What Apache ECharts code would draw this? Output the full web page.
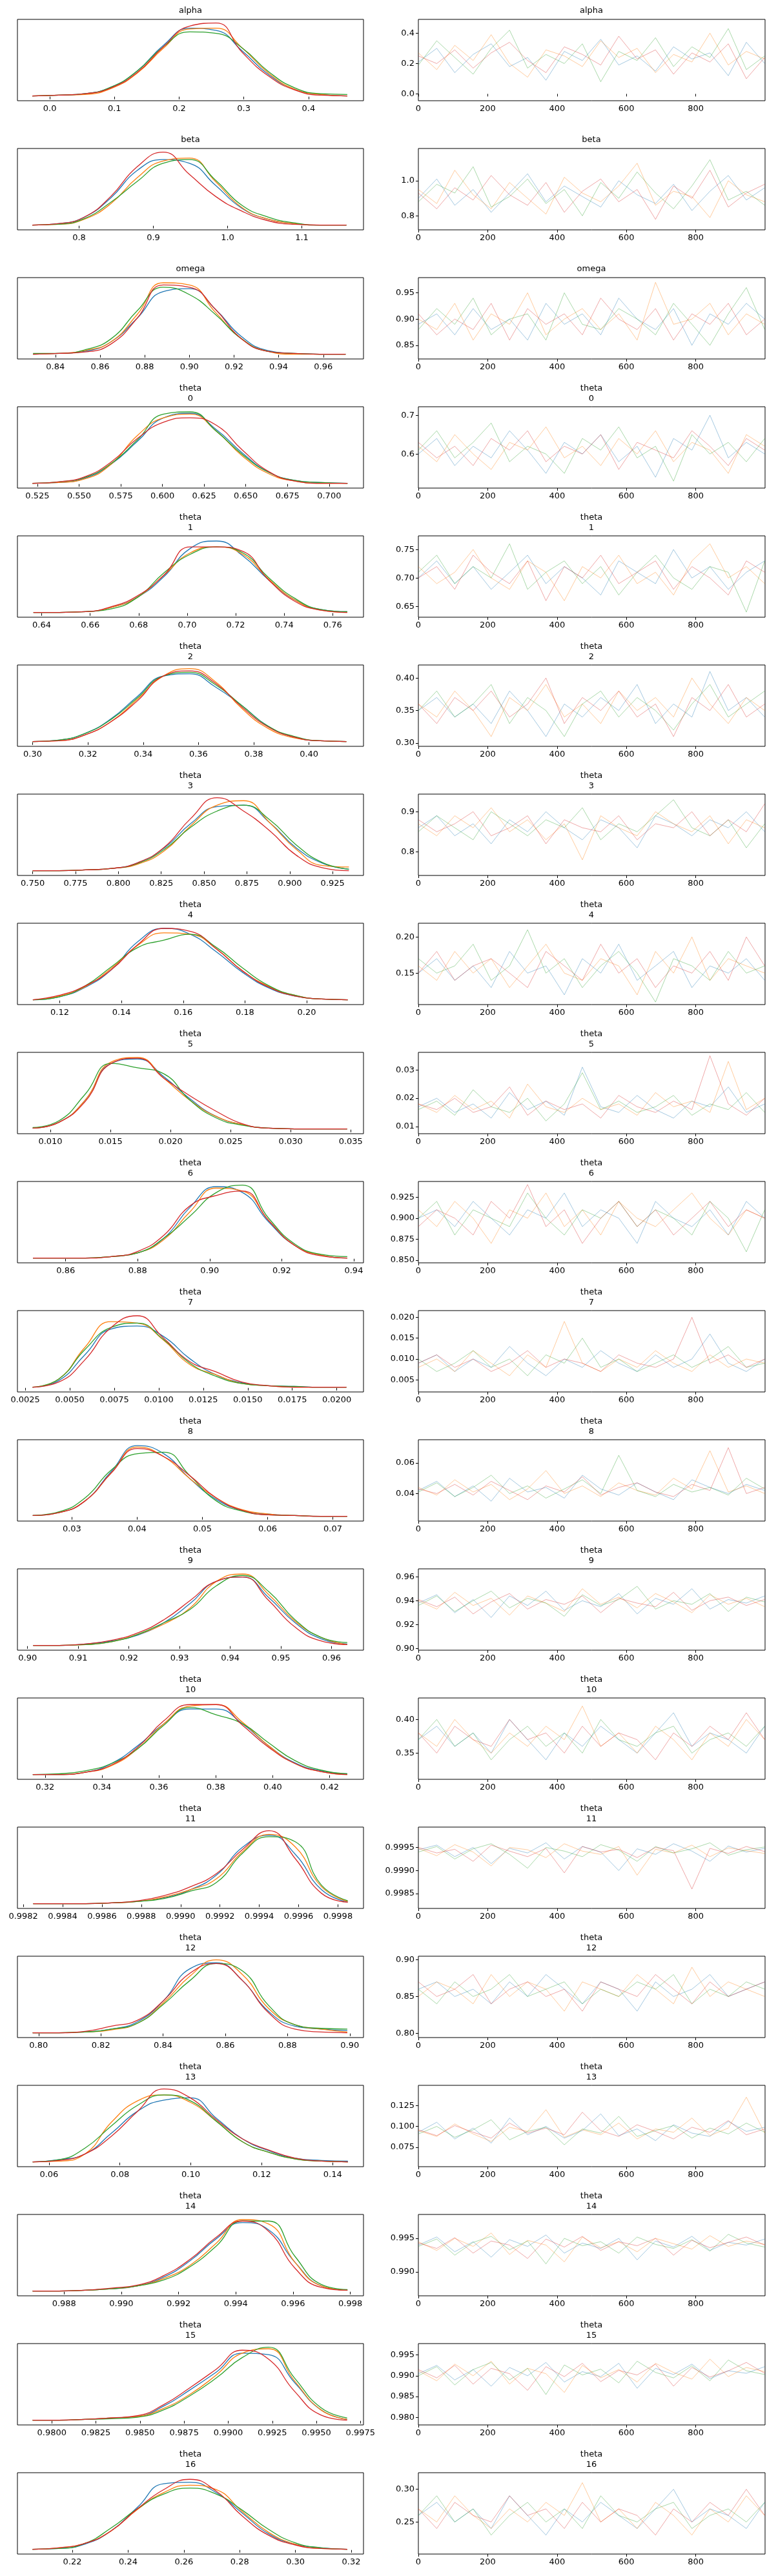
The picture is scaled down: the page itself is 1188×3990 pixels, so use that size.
<!DOCTYPE html>
<html><head><meta charset="utf-8">
<script src="https://cdn.jsdelivr.net/npm/echarts@6/dist/echarts.min.js"></script>
<style>html,body{margin:0;padding:0;background:#fff}#c{width:1188px;height:3990px}</style>
</head><body><div id="c"></div>
<script>
const paramNames = ['alpha','beta','omega','theta','theta','theta','theta','theta','theta','theta','theta','theta','theta','theta','theta','theta','theta','theta','theta','theta'];
const paramIdx = ['','','','0','1','2','3','4','5','6','7','8','9','10','11','12','13','14','15','16'];
const chainColors = ['#1f77b4','#ff7f0e','#2ca02c','#d62728'];
const drawTicks = ['0','200','400','600','800'];

// KDE x-axis range (min,max) and curve extent (lo,hi)
const kdeAxisRange = [[-0.050,0.485],[0.717,1.183],[0.823,0.978],[0.513,0.7206],[0.630,0.7727],[0.2945,0.4197],[0.7411,0.943],[0.1063,0.2184],[0.00726,0.03606],[0.8466,0.9427],[0.00206,0.0215],[0.02165,0.0747],[0.898,0.9663],[0.3103,0.4319],[0.99817,0.99993],[0.7932,0.9044],[0.0511,0.1487],[0.98637,0.99846],[0.97805,0.99767],[0.2003,0.3244]];
const kdeExtent = [[-0.027,0.46],[0.737,1.16],[0.830,0.970],[0.522,0.711],[0.6366,0.766],[0.30,0.4135],[0.750,0.9345],[0.1113,0.2133],[0.00853,0.0347],[0.8509,0.9382],[0.00291,0.02054],[0.024,0.0722],[0.9011,0.9631],[0.3157,0.4262],[0.99825,0.99985],[0.7981,0.8992],[0.0554,0.1443],[0.9869,0.9979],[0.97891,0.99674],[0.2057,0.3186]];
const kdeTicks = [
 ['0.0','0.1','0.2','0.3','0.4'],
 ['0.8','0.9','1.0','1.1'],
 ['0.84','0.86','0.88','0.90','0.92','0.94','0.96'],
 ['0.525','0.550','0.575','0.600','0.625','0.650','0.675','0.700'],
 ['0.64','0.66','0.68','0.70','0.72','0.74','0.76'],
 ['0.30','0.32','0.34','0.36','0.38','0.40'],
 ['0.750','0.775','0.800','0.825','0.850','0.875','0.900','0.925'],
 ['0.12','0.14','0.16','0.18','0.20'],
 ['0.010','0.015','0.020','0.025','0.030','0.035'],
 ['0.86','0.88','0.90','0.92','0.94'],
 ['0.0025','0.0050','0.0075','0.0100','0.0125','0.0150','0.0175','0.0200'],
 ['0.03','0.04','0.05','0.06','0.07'],
 ['0.90','0.91','0.92','0.93','0.94','0.95','0.96'],
 ['0.32','0.34','0.36','0.38','0.40','0.42'],
 ['0.9982','0.9984','0.9986','0.9988','0.9990','0.9992','0.9994','0.9996','0.9998'],
 ['0.80','0.82','0.84','0.86','0.88','0.90'],
 ['0.06','0.08','0.10','0.12','0.14'],
 ['0.988','0.990','0.992','0.994','0.996','0.998'],
 ['0.9800','0.9825','0.9850','0.9875','0.9900','0.9925','0.9950','0.9975'],
 ['0.22','0.24','0.26','0.28','0.30','0.32']];
const traceAxisRange = [[-0.045,0.491],[0.72,1.184],[0.824,0.979],[0.512,0.722],[0.631,0.774],[0.295,0.420],[0.741,0.944],[0.1065,0.219],[0.0075,0.0362],[0.8469,0.9437],[0.00211,0.0216],[0.022,0.0752],[0.8987,0.9666],[0.311,0.432],[0.99818,0.99994],[0.794,0.905],[0.0518,0.1492],[0.98644,0.99856],[0.97819,0.99774],[0.201,0.3253]];
const traceTicks = [
 ['0.0','0.2','0.4'],['0.8','1.0'],['0.85','0.90','0.95'],['0.6','0.7'],['0.65','0.70','0.75'],['0.30','0.35','0.40'],['0.8','0.9'],['0.15','0.20'],['0.01','0.02','0.03'],['0.850','0.875','0.900','0.925'],['0.005','0.010','0.015','0.020'],['0.04','0.06'],['0.90','0.92','0.94','0.96'],['0.35','0.40'],['0.9985','0.9990','0.9995'],['0.80','0.85','0.90'],['0.075','0.100','0.125'],['0.990','0.995'],['0.980','0.985','0.990','0.995'],['0.25','0.30']];

// KDE densities (relative), 13 points per chain: blue, orange, green, red
const kdeAlpha=[[.01,.02,.04,.13,.35,.70,.93,.90,.62,.30,.10,.03,.01],[.01,.02,.03,.11,.32,.66,.92,.93,.66,.32,.10,.03,.01],[.01,.02,.04,.13,.35,.68,.88,.86,.66,.34,.12,.04,.03],[.01,.02,.04,.12,.33,.68,.96,1.0,.60,.28,.09,.02,.01]];
const kdeBeta=[[.01,.03,.12,.38,.75,.90,.85,.55,.24,.09,.03,.01,.01],[.01,.02,.09,.30,.65,.88,.92,.60,.25,.09,.03,.01,.01],[.01,.02,.10,.32,.60,.85,.90,.62,.28,.12,.04,.01,.01],[.01,.03,.12,.40,.80,1.0,.70,.40,.20,.07,.02,.01,.01]];
const kdeOmega=[[.01,.02,.05,.18,.50,.86,.90,.62,.25,.06,.02,.01,.01],[.01,.02,.06,.18,.55,.98,.95,.58,.22,.05,.01,.01,.01],[.02,.02,.07,.22,.60,.92,.82,.55,.22,.05,.02,.01,.01],[.01,.02,.04,.15,.50,.95,.92,.62,.22,.05,.02,.01,.01]];
const kdeTheta0=[[.01,.02,.08,.27,.58,.90,.96,.74,.42,.16,.05,.02,.01],[.01,.02,.07,.27,.66,.90,.95,.72,.38,.14,.04,.01,.01],[.01,.03,.09,.28,.60,.95,.98,.72,.40,.16,.05,.02,.01],[.01,.03,.10,.30,.62,.84,.90,.80,.46,.17,.04,.01,.01]];
const kdeTheta1=[[.01,.01,.02,.08,.22,.50,.88,.98,.78,.45,.18,.05,.02],[.01,.01,.02,.08,.22,.52,.82,.90,.80,.46,.18,.04,.01],[.01,.01,.02,.06,.22,.55,.80,.90,.82,.48,.20,.05,.02],[.01,.01,.02,.09,.24,.52,.90,.90,.84,.45,.16,.04,.01]];
const kdeTheta2=[[.01,.03,.12,.32,.62,.90,.93,.75,.50,.22,.07,.02,.01],[.01,.02,.10,.28,.58,.90,1.0,.82,.46,.19,.06,.02,.01],[.01,.03,.12,.31,.60,.90,.95,.78,.50,.22,.08,.02,.01],[.01,.02,.10,.28,.56,.90,.97,.80,.48,.21,.07,.02,.01]];
const kdeTheta3=[[.01,.01,.02,.04,.12,.32,.65,.88,.90,.66,.32,.11,.03],[.01,.01,.02,.04,.10,.28,.62,.90,.96,.66,.30,.08,.06],[.01,.01,.02,.04,.11,.30,.60,.82,.90,.70,.36,.12,.03],[.01,.01,.02,.04,.12,.33,.72,1.0,.82,.55,.22,.05,.01]];
const kdeTheta4=[[.01,.05,.18,.42,.80,.98,.90,.66,.38,.17,.06,.02,.01],[.01,.06,.19,.44,.75,.92,.90,.70,.40,.19,.07,.02,.01],[.01,.05,.20,.46,.72,.82,.90,.72,.44,.20,.07,.02,.01],[.01,.07,.20,.42,.76,.98,.94,.70,.40,.18,.06,.02,.01]];
const kdeTheta5=[[.02,.10,.40,.90,.96,.72,.42,.18,.07,.02,.01,.01,.01],[.02,.10,.40,.92,.98,.70,.40,.18,.07,.02,.01,.01,.01],[.03,.12,.48,.90,.84,.76,.40,.16,.06,.02,.01,.01,.01],[.02,.10,.38,.90,.97,.70,.46,.25,.08,.02,.01,.01,.01]];
const kdeTheta6=[[.01,.01,.01,.03,.08,.28,.70,.98,.90,.50,.18,.05,.01],[.01,.01,.01,.03,.08,.26,.64,.96,.92,.52,.18,.05,.01],[.01,.01,.01,.03,.08,.28,.58,.90,1.0,.55,.20,.06,.03],[.01,.01,.01,.03,.10,.32,.72,.86,.92,.52,.18,.04,.01]];
const kdeTheta7=[[.01,.10,.45,.80,.84,.70,.40,.18,.07,.03,.02,.01,.01],[.01,.12,.55,.90,.88,.65,.32,.18,.06,.03,.01,.01,.01],[.01,.12,.52,.82,.88,.66,.34,.16,.06,.03,.02,.01,.01],[.01,.08,.38,.82,.98,.68,.36,.22,.08,.03,.01,.01,.01]];
const kdeTheta8=[[.02,.06,.22,.62,.97,.86,.52,.24,.09,.04,.02,.01,.01],[.02,.06,.22,.60,.95,.82,.52,.26,.10,.04,.02,.01,.01],[.02,.07,.26,.64,.86,.88,.56,.22,.08,.03,.02,.01,.01],[.02,.06,.22,.60,.93,.82,.56,.26,.09,.03,.02,.01,.01]];
const kdeTheta9=[[.01,.01,.03,.07,.15,.32,.58,.88,.94,.66,.32,.10,.03],[.01,.01,.02,.06,.16,.30,.52,.88,.98,.70,.34,.12,.02],[.01,.01,.02,.06,.16,.32,.50,.82,.96,.74,.36,.12,.05],[.01,.01,.03,.08,.18,.36,.62,.88,.94,.62,.26,.07,.02]];
const kdeTheta10=[[.01,.01,.04,.16,.40,.70,.90,.90,.70,.40,.17,.06,.02],[.01,.01,.04,.13,.36,.70,.94,.96,.72,.40,.16,.05,.01],[.01,.02,.06,.16,.36,.68,.92,.82,.70,.44,.20,.07,.02],[.01,.01,.04,.14,.38,.74,.96,.96,.68,.38,.16,.05,.01]];
const kdeTheta11=[[.01,.01,.01,.02,.04,.09,.20,.40,.78,.94,.68,.20,.03],[.01,.01,.01,.02,.04,.10,.20,.35,.72,.95,.78,.24,.04],[.01,.01,.01,.02,.04,.08,.18,.30,.70,.92,.85,.26,.05],[.01,.01,.01,.02,.05,.12,.24,.42,.75,1.0,.62,.15,.03]];
const kdeTheta12=[[.01,.01,.02,.06,.16,.45,.88,.96,.72,.30,.10,.06,.04],[.01,.01,.02,.05,.14,.42,.78,1.0,.80,.34,.12,.06,.02],[.01,.01,.02,.06,.14,.40,.72,.95,.85,.38,.12,.07,.06],[.01,.01,.03,.10,.18,.45,.82,.95,.72,.28,.06,.02,.01]];
const kdeTheta13=[[.01,.04,.12,.40,.70,.85,.88,.60,.32,.16,.06,.03,.02],[.01,.02,.12,.55,.84,.92,.82,.56,.28,.14,.05,.02,.01],[.01,.04,.20,.50,.78,.92,.84,.56,.28,.14,.05,.02,.01],[.01,.03,.12,.36,.70,1.0,.88,.58,.32,.17,.06,.02,.01]];
const kdeTheta14=[[.01,.01,.02,.04,.08,.20,.42,.72,.94,.84,.40,.08,.02],[.01,.01,.02,.04,.08,.18,.36,.66,.98,.92,.40,.08,.02],[.01,.01,.02,.04,.08,.16,.34,.62,.96,.96,.48,.10,.03],[.01,.01,.02,.05,.09,.22,.44,.74,.96,.82,.32,.06,.02]];
const kdeTheta15=[[.01,.01,.02,.04,.06,.20,.42,.66,.92,.90,.52,.15,.02],[.01,.01,.02,.04,.06,.17,.36,.62,.92,.98,.54,.15,.02],[.01,.01,.02,.03,.05,.15,.34,.58,.86,1.0,.58,.18,.04],[.01,.01,.02,.04,.07,.22,.45,.70,.96,.84,.40,.08,.01]];
const kdeTheta16=[[.01,.02,.08,.26,.58,.90,.92,.78,.50,.22,.08,.03,.01],[.01,.03,.09,.26,.55,.78,.88,.82,.52,.24,.08,.02,.01],[.01,.02,.09,.30,.56,.76,.84,.76,.54,.28,.10,.03,.01],[.01,.03,.09,.26,.56,.82,.96,.80,.46,.20,.07,.02,.01]];

// Trace samples (read approximately), 20 per chain: blue, orange, green, red
const trAlpha=[[.21,.30,.14,.26,.33,.18,.24,.09,.28,.22,.36,.19,.25,.15,.31,.23,.27,.12,.34,.20],[.27,.16,.32,.22,.39,.20,.11,.29,.25,.18,.35,.24,.30,.14,.26,.21,.40,.19,.28,.23],[.19,.35,.24,.13,.30,.42,.17,.26,.20,.33,.08,.28,.22,.37,.18,.31,.24,.43,.16,.25],[.25,.20,.29,.17,.27,.34,.22,.14,.31,.26,.19,.38,.23,.29,.13,.27,.21,.33,.10,.24]];
const trBeta=[[.90,1.01,.86,.95,.82,.93,1.04,.88,.97,.91,.85,1.00,.92,.87,.98,.83,.94,1.03,.89,.96],[.95,.87,1.06,.92,.84,.99,.90,.81,1.02,.93,.88,.97,1.10,.86,.94,.91,.79,1.00,.92,.88],[.88,.98,.93,1.08,.85,.91,1.01,.87,.95,.80,.99,.90,1.05,.93,.84,.97,1.12,.89,.94,.86],[.93,.84,.96,.89,1.03,.92,.86,.99,.82,.94,1.01,.88,.95,.78,.97,.90,1.06,.85,.93,.98]];
const trOmega=[[.89,.91,.87,.92,.88,.90,.86,.93,.89,.91,.87,.94,.90,.88,.92,.85,.91,.89,.93,.90],[.90,.88,.93,.86,.91,.89,.95,.87,.90,.92,.88,.91,.86,.97,.89,.90,.93,.87,.91,.89],[.88,.92,.89,.94,.87,.90,.91,.86,.95,.89,.88,.92,.90,.87,.93,.89,.85,.91,.96,.88],[.91,.87,.90,.88,.93,.86,.92,.89,.91,.87,.94,.90,.88,.92,.86,.91,.89,.93,.87,.90]];
const trTheta0=[[.60,.64,.57,.62,.59,.66,.61,.55,.63,.60,.65,.58,.62,.54,.64,.61,.70,.59,.63,.60],[.62,.58,.65,.60,.56,.63,.61,.67,.59,.62,.57,.64,.60,.66,.58,.63,.61,.55,.65,.62],[.61,.66,.59,.63,.68,.58,.62,.60,.55,.64,.61,.67,.59,.62,.53,.65,.60,.63,.58,.64],[.63,.59,.62,.57,.64,.61,.66,.58,.62,.60,.65,.56,.63,.61,.59,.66,.62,.57,.64,.61]];
const trTheta1=[[.70,.73,.69,.72,.68,.71,.74,.69,.72,.70,.67,.73,.71,.69,.75,.70,.72,.68,.71,.73],[.72,.69,.71,.75,.70,.68,.73,.71,.66,.72,.70,.74,.69,.71,.67,.73,.76,.70,.72,.69],[.71,.74,.69,.72,.70,.76,.68,.71,.73,.69,.72,.67,.71,.74,.70,.68,.72,.71,.64,.73],[.70,.72,.68,.74,.71,.69,.73,.66,.72,.70,.74,.69,.71,.73,.68,.72,.70,.67,.73,.71]];
const trTheta2=[[.35,.37,.34,.36,.33,.38,.35,.31,.36,.34,.37,.35,.39,.33,.36,.34,.41,.35,.37,.34],[.36,.34,.38,.35,.31,.37,.35,.39,.34,.36,.33,.38,.35,.37,.34,.40,.36,.33,.37,.35],[.35,.38,.34,.36,.39,.33,.37,.35,.31,.36,.38,.34,.37,.35,.32,.36,.39,.34,.36,.38],[.36,.33,.37,.35,.38,.34,.36,.40,.33,.37,.35,.38,.34,.36,.31,.37,.35,.39,.34,.36]];
const trTheta3=[[.86,.89,.84,.87,.82,.88,.85,.90,.86,.83,.88,.86,.81,.89,.87,.84,.88,.86,.90,.85],[.87,.84,.89,.86,.91,.85,.88,.83,.87,.78,.89,.86,.84,.90,.87,.85,.89,.82,.88,.86],[.85,.89,.86,.83,.90,.87,.84,.88,.86,.91,.83,.87,.85,.89,.93,.86,.84,.88,.81,.87],[.88,.85,.87,.90,.84,.86,.89,.82,.88,.86,.85,.89,.83,.87,.86,.90,.84,.88,.85,.92]];
const trTheta4=[[.15,.17,.14,.16,.13,.18,.15,.16,.12,.17,.15,.19,.14,.16,.18,.13,.16,.15,.17,.14],[.16,.14,.18,.15,.17,.13,.16,.19,.15,.14,.17,.16,.12,.18,.15,.20,.14,.17,.16,.15],[.17,.15,.16,.19,.14,.16,.21,.15,.17,.13,.16,.18,.15,.11,.17,.16,.14,.18,.15,.16],[.15,.18,.14,.16,.17,.15,.13,.18,.16,.14,.19,.15,.17,.13,.16,.15,.18,.14,.20,.16]];
const trTheta5=[[.017,.020,.015,.018,.013,.022,.016,.019,.014,.031,.017,.015,.021,.016,.013,.019,.017,.024,.015,.018],[.018,.015,.021,.016,.019,.013,.025,.017,.015,.020,.016,.018,.014,.022,.017,.019,.015,.033,.016,.020],[.016,.019,.014,.023,.017,.015,.020,.012,.018,.029,.016,.019,.015,.017,.021,.014,.018,.016,.022,.015],[.018,.016,.020,.015,.017,.024,.014,.019,.016,.018,.013,.021,.017,.015,.019,.016,.035,.018,.014,.020]];
const trTheta6=[[.90,.91,.89,.92,.90,.88,.91,.90,.93,.89,.91,.90,.87,.92,.90,.89,.91,.88,.92,.90],[.91,.89,.92,.90,.87,.91,.90,.93,.89,.91,.88,.92,.90,.89,.91,.93,.90,.88,.91,.90],[.90,.92,.88,.91,.90,.89,.93,.90,.88,.91,.90,.92,.89,.91,.90,.88,.92,.90,.86,.91],[.89,.91,.90,.88,.92,.90,.94,.89,.91,.87,.90,.92,.89,.91,.88,.90,.92,.89,.91,.90]];
const trTheta7=[[.009,.011,.007,.010,.008,.013,.009,.006,.010,.008,.012,.009,.007,.011,.008,.010,.016,.009,.007,.010],[.008,.010,.007,.012,.009,.006,.011,.008,.019,.009,.007,.010,.008,.012,.009,.007,.011,.008,.010,.009],[.010,.007,.009,.012,.008,.010,.006,.011,.009,.015,.008,.010,.007,.009,.011,.008,.010,.013,.008,.009],[.009,.011,.008,.010,.007,.009,.012,.008,.010,.009,.007,.011,.009,.008,.010,.020,.009,.011,.008,.010]];
const trTheta8=[[.042,.048,.038,.045,.035,.050,.041,.044,.037,.052,.043,.039,.047,.041,.036,.049,.044,.040,.046,.042],[.044,.039,.049,.041,.046,.036,.043,.055,.040,.045,.038,.047,.042,.039,.050,.043,.068,.041,.045,.040],[.041,.047,.038,.044,.052,.040,.045,.037,.043,.049,.040,.065,.042,.038,.046,.041,.044,.039,.050,.043],[.043,.040,.046,.039,.048,.042,.036,.045,.041,.051,.039,.044,.047,.041,.038,.046,.042,.070,.040,.044]];
const trTheta9=[[.938,.945,.930,.941,.926,.944,.936,.948,.932,.940,.935,.946,.929,.942,.937,.950,.933,.941,.938,.944],[.940,.933,.947,.936,.942,.928,.944,.938,.931,.950,.937,.943,.934,.946,.939,.930,.945,.937,.942,.935],[.936,.944,.931,.940,.948,.934,.942,.938,.927,.945,.936,.941,.952,.933,.940,.937,.946,.931,.943,.939],[.941,.935,.943,.929,.939,.946,.933,.941,.937,.944,.930,.942,.938,.935,.947,.932,.940,.943,.936,.941]];
const trTheta10=[[.37,.39,.36,.38,.35,.40,.37,.34,.38,.36,.39,.37,.35,.38,.41,.36,.38,.37,.35,.39],[.38,.36,.40,.37,.35,.38,.36,.39,.37,.42,.36,.38,.35,.39,.37,.34,.38,.36,.40,.37],[.37,.40,.36,.38,.34,.37,.39,.36,.38,.35,.40,.37,.36,.38,.39,.35,.37,.38,.36,.39],[.38,.35,.39,.37,.36,.40,.37,.38,.35,.39,.36,.38,.37,.34,.38,.36,.39,.37,.41,.37]];
const trTheta11=[[.99945,.99955,.99930,.99950,.99915,.99948,.99938,.99960,.99925,.99952,.99940,.99900,.99947,.99935,.99958,.99942,.99920,.99953,.99940,.99948],[.99948,.99932,.99956,.99940,.99910,.99950,.99945,.99928,.99958,.99942,.99935,.99952,.99890,.99946,.99938,.99955,.99930,.99949,.99943,.99937],[.99940,.99952,.99925,.99947,.99958,.99935,.99905,.99950,.99942,.99930,.99956,.99944,.99920,.99952,.99938,.99947,.99960,.99933,.99945,.99951],[.99950,.99938,.99946,.99920,.99955,.99942,.99930,.99948,.99895,.99952,.99940,.99946,.99928,.99950,.99943,.99860,.99948,.99937,.99952,.99941]];
const trTheta12=[[.86,.87,.85,.86,.84,.87,.85,.88,.86,.84,.87,.86,.83,.87,.85,.86,.88,.85,.86,.87],[.85,.87,.86,.84,.88,.85,.87,.86,.83,.87,.86,.85,.88,.86,.84,.89,.85,.87,.86,.85],[.86,.84,.87,.85,.86,.88,.85,.86,.87,.84,.86,.85,.87,.86,.88,.84,.86,.85,.87,.86],[.87,.85,.86,.88,.84,.86,.87,.85,.86,.83,.87,.86,.85,.88,.86,.84,.87,.85,.86,.87]];
const trTheta13=[[.093,.105,.085,.098,.080,.110,.090,.100,.086,.095,.115,.089,.097,.083,.102,.092,.088,.106,.094,.099],[.095,.088,.103,.091,.082,.099,.094,.120,.087,.096,.090,.104,.085,.097,.093,.110,.089,.098,.135,.092],[.091,.100,.087,.096,.108,.084,.094,.099,.078,.097,.092,.112,.088,.095,.101,.086,.098,.091,.104,.093],[.096,.089,.101,.093,.086,.104,.092,.098,.090,.117,.095,.088,.102,.094,.085,.099,.093,.107,.090,.097]];
const trTheta14=[[.9940,.9952,.9930,.9945,.9922,.9948,.9938,.9955,.9928,.9943,.9935,.9950,.9918,.9946,.9937,.9953,.9932,.9944,.9940,.9949],[.9945,.9932,.9950,.9938,.9958,.9926,.9947,.9940,.9915,.9952,.9936,.9945,.9930,.9950,.9942,.9934,.9954,.9938,.9946,.9941],[.9938,.9949,.9925,.9944,.9953,.9933,.9946,.9912,.9950,.9939,.9945,.9928,.9952,.9941,.9935,.9948,.9931,.9956,.9943,.9937],[.9943,.9935,.9951,.9928,.9946,.9940,.9920,.9949,.9937,.9953,.9932,.9945,.9939,.9950,.9925,.9947,.9936,.9944,.9952,.9940]];
const trTheta15=[[.9905,.9925,.9890,.9915,.9875,.9920,.9900,.9932,.9885,.9910,.9898,.9930,.9870,.9918,.9903,.9928,.9893,.9912,.9906,.9922],[.9912,.9888,.9928,.9900,.9935,.9880,.9918,.9905,.9860,.9925,.9895,.9915,.9885,.9930,.9908,.9892,.9940,.9898,.9920,.9910],[.9900,.9922,.9878,.9915,.9932,.9890,.9918,.9855,.9926,.9902,.9916,.9883,.9935,.9908,.9895,.9924,.9888,.9938,.9912,.9903],[.9915,.9895,.9925,.9880,.9918,.9905,.9865,.9922,.9898,.9930,.9886,.9913,.9902,.9928,.9875,.9920,.9897,.9912,.9932,.9906]];
const trTheta16=[[.26,.28,.25,.27,.24,.29,.26,.23,.27,.25,.28,.26,.24,.27,.30,.25,.27,.26,.24,.28],[.27,.25,.29,.26,.24,.27,.25,.28,.26,.31,.25,.27,.24,.28,.26,.23,.27,.25,.29,.26],[.26,.29,.25,.27,.23,.26,.28,.25,.27,.24,.29,.26,.25,.27,.28,.24,.26,.27,.25,.28],[.27,.24,.28,.26,.25,.29,.26,.27,.24,.28,.25,.27,.26,.23,.27,.25,.28,.26,.30,.26]];

const kdeAll=[kdeAlpha,kdeBeta,kdeOmega,kdeTheta0,kdeTheta1,kdeTheta2,kdeTheta3,kdeTheta4,kdeTheta5,kdeTheta6,kdeTheta7,kdeTheta8,kdeTheta9,kdeTheta10,kdeTheta11,kdeTheta12,kdeTheta13,kdeTheta14,kdeTheta15,kdeTheta16];
const trAll=[trAlpha,trBeta,trOmega,trTheta0,trTheta1,trTheta2,trTheta3,trTheta4,trTheta5,trTheta6,trTheta7,trTheta8,trTheta9,trTheta10,trTheta11,trTheta12,trTheta13,trTheta14,trTheta15,trTheta16];

const FONT='DejaVu Sans';
const grid=[],xAxis=[],yAxis=[],series=[],graphic=[];
function dec(s){const p=s.split('.');return p.length>1?p[1].length:0;}
function tickAxis(gi,min,max,labels,isX){
  const vals=labels.map(Number), d=dec(labels[0]);
  return {type:'value',gridIndex:gi,min:min,max:max,
    axisLine:{show:false},splitLine:{show:false},
    axisTick:{show:true,customValues:vals,length:4,lineStyle:{color:'#000',width:1}},
    axisLabel:{show:true,customValues:vals,formatter:v=>Number(v).toFixed(d),color:'#000',fontSize:13,fontFamily:FONT,margin:6}};
}
for(let i=0;i<20;i++){
  const top=30+200*i;
  grid.push({left:27,top:top,width:536,height:126,show:true,borderColor:'#000',borderWidth:1,backgroundColor:'rgba(0,0,0,0)'});
  grid.push({left:648,top:top,width:537,height:126,show:true,borderColor:'#000',borderWidth:1,backgroundColor:'rgba(0,0,0,0)'});
  const gL=2*i,gR=2*i+1;
  xAxis.push(tickAxis(gL,kdeAxisRange[i][0],kdeAxisRange[i][1],kdeTicks[i],true));
  xAxis.push(tickAxis(gR,0,1000,drawTicks,true));
  yAxis.push({type:'value',gridIndex:gL,min:-0.055,max:1.05,show:false});
  yAxis.push(tickAxis(gR,traceAxisRange[i][0],traceAxisRange[i][1],traceTicks[i],false));
  const [lo,hi]=kdeExtent[i];
  for(let c=0;c<4;c++){
    const dens=kdeAll[i][c];
    series.push({type:'line',xAxisIndex:gL,yAxisIndex:gL,symbol:'none',smooth:0.5,silent:true,
      lineStyle:{color:chainColors[c],width:1.3},
      data:dens.map((v,j)=>[lo+j*(hi-lo)/(dens.length-1),v])});
  }
  for(let c=0;c<4;c++){
    const tr=trAll[i][c];
    series.push({type:'line',xAxisIndex:gR,yAxisIndex:gR,symbol:'none',silent:true,
      lineStyle:{color:chainColors[c],width:0.8,opacity:0.5},
      data:tr.map((v,j)=>[Math.round(j*999/(tr.length-1)),v])});
  }
  const centers=[295,916];
  centers.forEach(cx=>{
    if(paramIdx[i]===''){
      graphic.push({type:'text',left:cx,top:top-20,style:{text:paramNames[i],fill:'#000',font:'13px "'+FONT+'"',textAlign:'center'}});
    } else {
      graphic.push({type:'text',x:cx,y:top-28,style:{text:paramNames[i],fill:'#000',font:'13px "'+FONT+'"',align:'center',verticalAlign:'middle'}});
      graphic.push({type:'text',x:cx,y:top-12,style:{text:paramIdx[i],fill:'#000',font:'13px "'+FONT+'"',align:'center',verticalAlign:'middle'}});
    }
  });
}
// normalize simple titles to x/y form too
graphic.forEach(g=>{ if(g.left!==undefined){ g.x=g.left; g.y=g.top+7; delete g.left; delete g.top; g.style.align='center'; g.style.verticalAlign='middle'; delete g.style.textAlign; }});
const chart=echarts.init(document.getElementById('c'),null,{renderer:'canvas'});
chart.setOption({animation:false,backgroundColor:'#fff',grid,xAxis,yAxis,series,graphic});
</script></body></html>
